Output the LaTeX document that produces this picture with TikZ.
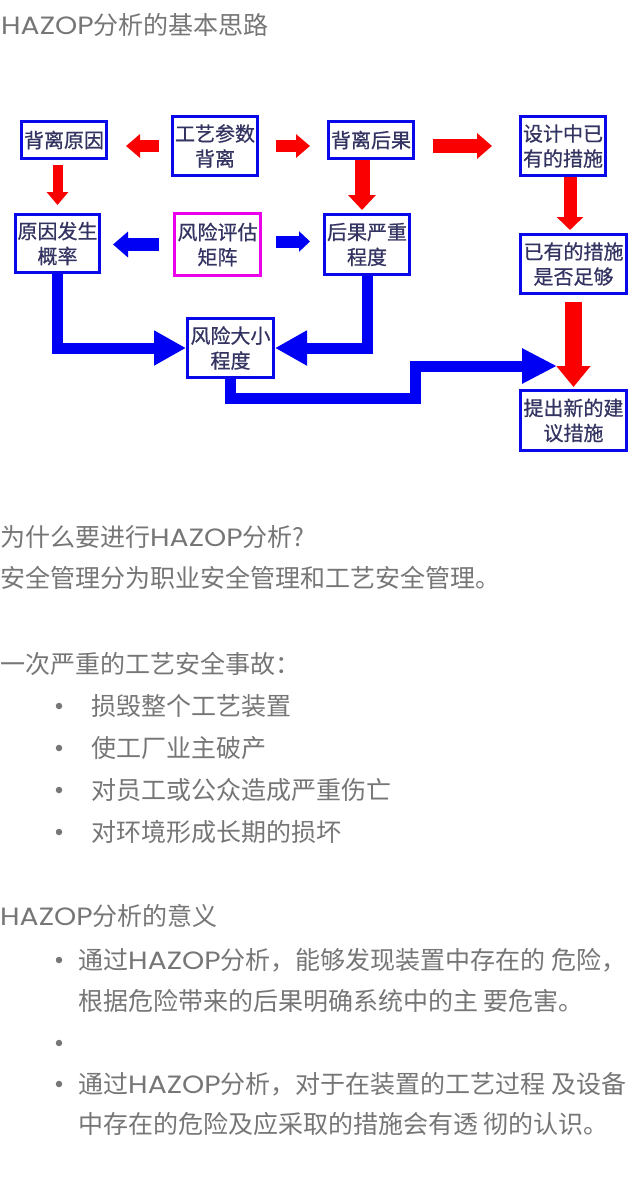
\documentclass[tikz,border=0pt]{standalone}
\usepackage{fontspec}
\setmainfont{Noto Sans CJK SC}
\newfontfamily\latinfont{Poppins}[FakeStretch=1.13]
\newfontfamily\boxfont{Noto Sans CJK SC}[FakeBold=0.6]
\usepackage{xcolor}
\usepackage{tikz}
\usetikzlibrary{arrows.meta,calc}
\definecolor{txtgray}{RGB}{118,118,118}
\definecolor{boxtxt}{RGB}{52,52,98}
\definecolor{frameblue}{RGB}{8,8,235}
\definecolor{framepink}{RGB}{236,0,236}
\definecolor{arrblue}{RGB}{0,0,245}
\definecolor{arrred}{RGB}{250,0,0}
\newcommand{\hazop}{{\latinfont HAZOP}}

\begin{document}
\begin{tikzpicture}[x=1pt,y=-1pt,
  box/.style={draw=frameblue,line width=3pt,inner sep=0pt,align=center,
    text=boxtxt,font=\boxfont\fontsize{20}{25}\selectfont},
  pinkbox/.style={box,draw=framepink},
  redarrow/.style={draw=arrred,line width=12pt,-{Triangle[length=14pt,width=23pt]}},
  bluearrow/.style={draw=arrblue,line width=13pt,-{Triangle[length=15pt,width=25pt]}},
  bluepipe/.style={draw=arrblue,line width=11pt,-{Triangle[length=32pt,width=33pt]}},
  body/.style={anchor=west,inner sep=0pt,text=txtgray,font=\fontsize{25}{30}\selectfont},
  dot/.style={circle,fill=txtgray,inner sep=0pt,minimum size=6.5pt}]
  \useasboundingbox[fill=white] (0,0) rectangle (640,1191);

  % flow chart boxes
  \node[box,minimum width=85pt,minimum height=37pt] (bl) at (64,140) {背离原因};
  \node[box,minimum width=85pt,minimum height=59pt] (gy) at (215,146) {工艺参数\\背离};
  \node[box,minimum width=85pt,minimum height=37pt] (bh) at (371,140) {背离后果};
  \node[box,minimum width=85pt,minimum height=59pt] (sj) at (563,146) {设计中已\\有的措施};
  \node[box,minimum width=84pt,minimum height=58pt] (yf) at (57.5,243.5) {原因发生\\概率};
  \node[pinkbox,minimum width=86pt,minimum height=62pt] (fx) at (217.5,244.5) {风险评估\\矩阵};
  \node[box,minimum width=85pt,minimum height=60pt] (hg) at (367,244.5) {后果严重\\程度};
  \node[box,minimum width=106pt,minimum height=59pt] (zg) at (573.5,264) {已有的措施\\是否足够};
  \node[box,minimum width=86pt,minimum height=59pt] (dx) at (230.5,348) {风险大小\\程度};
  \node[box,minimum width=106pt,minimum height=60pt] (tc) at (573.5,420.5) {提出新的建\\议措施};

  % red arrows
  \draw[redarrow,shorten <=12pt,shorten >=18pt] (gy.west) -- (gy.west -| bl.east);
  \draw[redarrow,shorten <=17pt,shorten >=17pt] (gy.east) -- (gy.east -| bh.west);
  \draw[redarrow,line width=10pt,-{Triangle[length=13pt,width=21pt]},
    shorten <=5pt,shorten >=8pt] (bl.south -| yf.north) -- (yf.north);
  \draw[redarrow,line width=15pt,-{Triangle[length=15pt,width=27pt]},shorten >=3pt]
    ($(bh.south)+(-9,0)$) -- ($(bh.south |- hg.north)+(-9,0)$);
  \draw[redarrow,line width=14pt,-{Triangle[length=15pt,width=25pt]},
    shorten <=18pt,shorten >=27pt] (sj.west -| bh.east) -- (sj.west);
  \draw[redarrow,line width=13pt,-{Triangle[length=13pt,width=26pt]},shorten >=3pt]
    ($(sj.south)+(7,0)$) -- ($(sj.south |- zg.north)+(7,0)$);
  \draw[redarrow,line width=17pt,-{Triangle[length=21pt,width=33pt]},
    shorten <=7pt,shorten >=2pt] (zg.south) -- (tc.north);

  % blue arrows
  \draw[bluearrow,shorten <=14pt,shorten >=12pt] (fx.west) -- (fx.west -| yf.east);
  \draw[bluearrow,line width=12pt,-{Triangle[length=11pt,width=20pt]},
    shorten <=14pt,shorten >=13pt] ([yshift=3pt]fx.east) -- ([yshift=3pt]fx.east -| hg.west);
  \draw[bluepipe] (yf.south) |- (dx.west);
  \draw[bluepipe] (hg.south) |- (dx.east);
  \coordinate (bend) at (415,398.5);
  \coordinate (merge) at (557,366);
  \draw[bluepipe,-{Triangle[length=35pt,width=33pt]}] (dx.south) |- (bend) |- (merge);

  % text
  \node[body] (title) at (1,25) {\hazop 分析的基本思路};
  \node[body] (why) at (0,537) {为什么要进行\hazop 分析?};
  \node[body] (mgmt) at (0,578) {安全管理分为职业安全管理和工艺安全管理。};
  \node[body] (acc) at (0,664) {一次严重的工艺安全事故：};
  \node[dot] (d1) at (59,706) {};
  \node[body] (a1) at (91,706) {损毁整个工艺装置};
  \node[dot] (d2) at (59,748) {};
  \node[body] (a2) at (91,748) {使工厂业主破产};
  \node[dot] (d3) at (59,790) {};
  \node[body] (a3) at (91,790) {对员工或公众造成严重伤亡};
  \node[dot] (d4) at (59,832) {};
  \node[body] (a4) at (91,832) {对环境形成长期的损坏};

  \node[body] (sense) at (0,916) {\hazop 分析的意义};
  \node[dot] (d5) at (59,960) {};
  \node[body] (s1a) at (78,960) {通过\hazop 分析，能够发现装置中存在的 危险，};
  \node[body] (s1b) at (78,1001) {根据危险带来的后果明确系统中的主 要危害。};
  \node[dot] (d6) at (59,1043) {};
  \node[dot] (d7) at (59,1084) {};
  \node[body] (s3a) at (78,1084) {通过\hazop 分析，对于在装置的工艺过程 及设备};
  \node[body] (s3b) at (78,1124) {中存在的危险及应采取的措施会有透 彻的认识。};
\end{tikzpicture}
\end{document}
